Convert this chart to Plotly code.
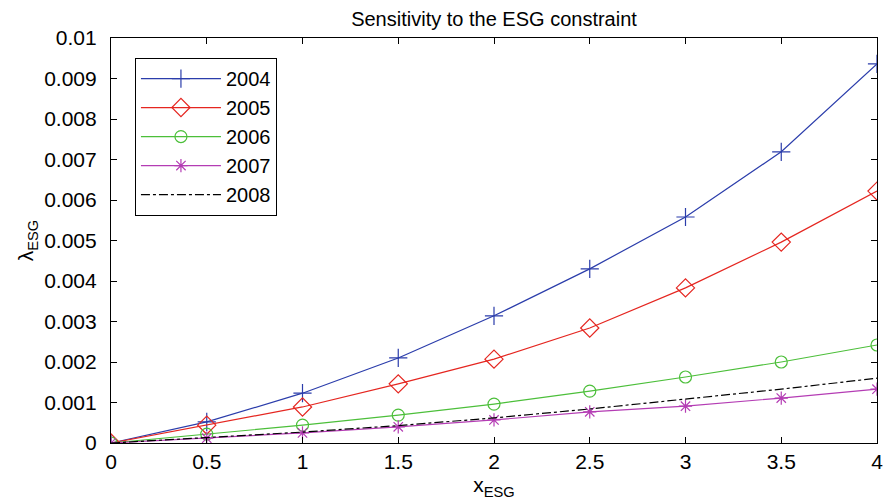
import plotly.graph_objects as go

x_vals = [0, 0.5, 1, 1.5, 2, 2.5, 3, 3.5, 4]
y_2004 = [0, 0.00052, 0.00123, 0.0021, 0.00314, 0.0043, 0.00558, 0.00719, 0.00936]
y_2005 = [0, 0.00044, 0.00089, 0.00146, 0.00207, 0.00284, 0.00383, 0.00496, 0.00622]
y_2006 = [0, 0.00022, 0.00044, 0.00069, 0.00096, 0.00128, 0.00163, 0.0020, 0.00242]
y_2007 = [0, 0.00012, 0.00025, 0.0004, 0.00057, 0.00077, 0.00091, 0.00111, 0.00133]
y_2008 = [0, 0.00013, 0.00027, 0.00043, 0.00062, 0.00084, 0.00108, 0.00133, 0.0016]

x_ticks = [0, 0.5, 1, 1.5, 2, 2.5, 3, 3.5, 4]
x_ticktext = ["0", "0.5", "1", "1.5", "2", "2.5", "3", "3.5", "4"]
y_ticks = [0, 0.001, 0.002, 0.003, 0.004, 0.005, 0.006, 0.007, 0.008, 0.009, 0.01]
y_ticktext = ["0", "0.001", "0.002", "0.003", "0.004", "0.005", "0.006", "0.007", "0.008", "0.009", "0.01"]

series = [
    ("2004", y_2004, "#2b3dab", "cross-thin-open", "solid", 13),
    ("2005", y_2005, "#e52620", "diamond-open", "solid", 14),
    ("2006", y_2006, "#4cbf3a", "circle-open", "solid", 12),
    ("2007", y_2007, "#b43cb4", "asterisk-open", "solid", 11),
    ("2008", y_2008, "#000000", None, "dashdot", 0),
]

font = "Liberation Sans, Arial, sans-serif"
fig = go.Figure()
for name, ys, col, sym, dash, size in series:
    kw = dict(mode="lines")
    if sym:
        kw = dict(mode="lines+markers",
                  marker=dict(symbol=sym, size=size, color=col, line=dict(color=col, width=1.2)))
    fig.add_trace(go.Scatter(x=x_vals, y=ys, name=name,
                             line=dict(color=col, width=1.2, dash=dash), **kw))

axis_common = dict(showline=True, linecolor="black", linewidth=1.2, mirror="ticks",
                   ticks="inside", ticklen=6, tickcolor="black", showgrid=False,
                   zeroline=False, tickfont=dict(size=21, color="black", family=font))

fig.update_layout(
    width=884, height=495,
    margin=dict(l=103, r=9, t=30, b=60),
    paper_bgcolor="white", plot_bgcolor="white",
    font=dict(family=font, color="black"),
    title=dict(text="Sensitivity to the ESG constraint", x=0.5, xref="paper",
               y=0.978, yref="container", yanchor="middle", font=dict(size=20)),
    xaxis=dict(range=[0, 4], tickvals=x_ticks, ticktext=x_ticktext,
               title=dict(text="x<sub>ESG</sub>", font=dict(size=21), standoff=4),
               **axis_common),
    yaxis=dict(range=[0, 0.01], tickvals=y_ticks, ticktext=y_ticktext,
               ticklabelstandoff=9,
               title=dict(text="λ<sub>ESG</sub>", font=dict(size=21), standoff=4),
               **axis_common),
    legend=dict(x=0.031, y=0.951, xanchor="left", yanchor="top",
                bordercolor="black", borderwidth=1.2, bgcolor="white",
                font=dict(size=20), itemwidth=80, tracegroupgap=0),
    showlegend=True,
)

fig.write_html("out.html")
